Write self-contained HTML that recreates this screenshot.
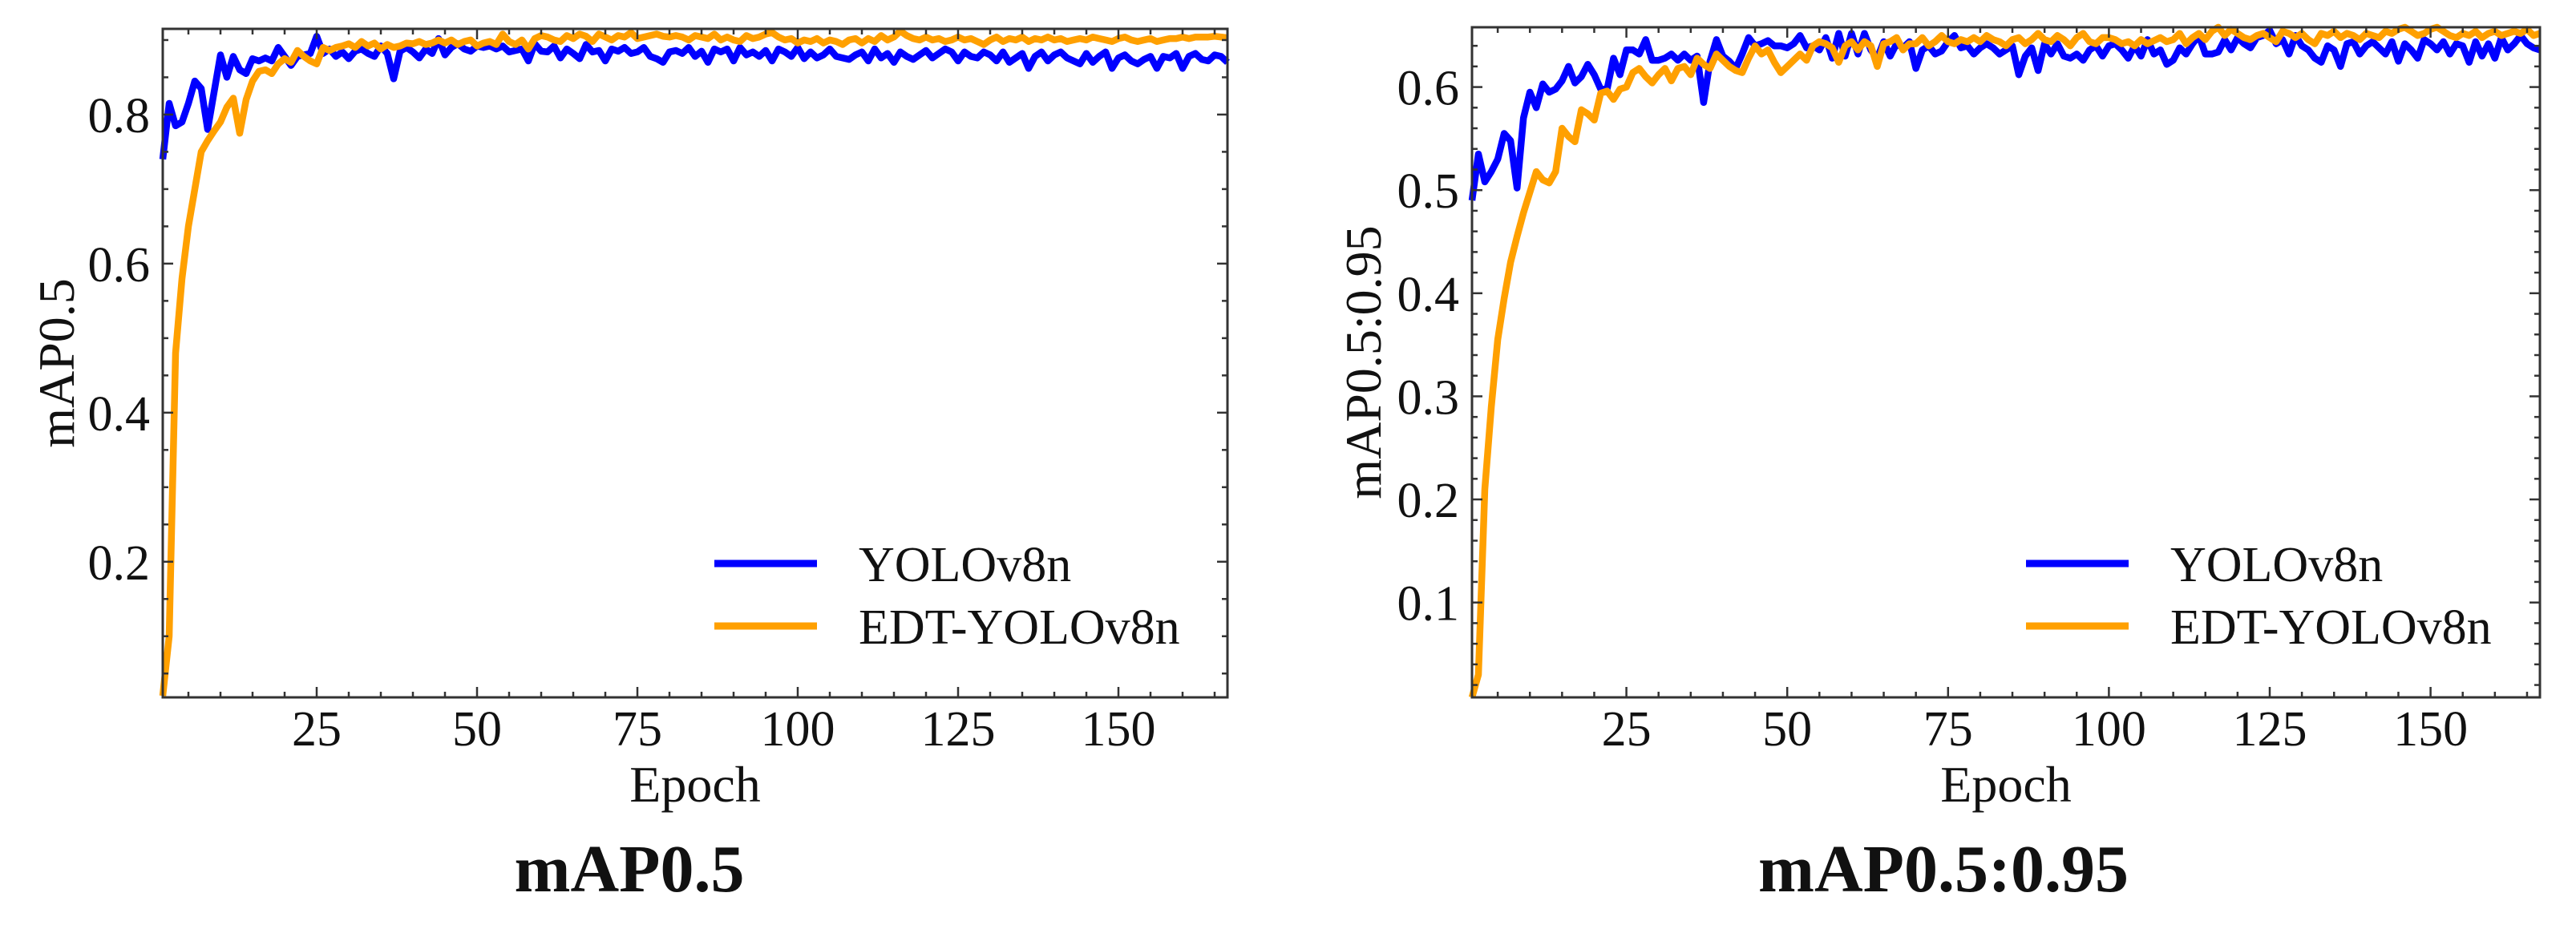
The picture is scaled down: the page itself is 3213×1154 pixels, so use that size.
<!DOCTYPE html>
<html><head><meta charset="utf-8"><style>
html,body{margin:0;padding:0;background:#fff;}
svg{display:block;}
text{font-family:"Liberation Serif",serif;fill:#111;}
</style></head><body>
<svg id="fig" width="3213" height="1154" viewBox="0 0 3213 1154" xmlns="http://www.w3.org/2000/svg"></svg>
<script>
const epochs = Array.from({length:167},(_,i)=>i+1);
const xTicks = [25,50,75,100,125,150];
const leftYTicks = [0.2,0.4,0.6,0.8];
const rightYTicks = [0.1,0.2,0.3,0.4,0.5,0.6];
const legendLabels = ["YOLOv8n","EDT-YOLOv8n"];
const leftYolo = [.74,.815,.785,.79,.815,.845,.835,.78,.83,.88,
.85,.878,.86,.855,.875,.872,.876,.872,.89,.878,
.866,.878,.88,.882,.905,.882,.888,.878,.884,.875,
.885,.888,.882,.878,.892,.882,.848,.885,.89,.884,
.876,.888,.882,.902,.88,.89,.895,.888,.885,.892,
.89,.892,.888,.892,.884,.886,.888,.872,.895,.885,
.884,.892,.876,.888,.882,.875,.894,.884,.886,.872,
.888,.885,.89,.882,.884,.89,.878,.875,.87,.884,
.886,.882,.89,.878,.885,.87,.888,.884,.888,.872,
.89,.88,.884,.878,.886,.872,.888,.884,.878,.89,
.875,.884,.876,.88,.888,.878,.876,.874,.88,.884,
.872,.888,.876,.882,.87,.884,.878,.874,.88,.886,
.876,.882,.888,.884,.872,.884,.878,.876,.884,.88,
.872,.884,.87,.876,.882,.862,.878,.884,.872,.88,
.884,.876,.872,.868,.882,.87,.878,.884,.862,.876,
.88,.872,.868,.874,.878,.862,.878,.876,.882,.862,
.878,.882,.874,.872,.88,.878,.87];
const leftEdt = [.02,.1,.48,.58,.65,.7,.75,.765,.778,.79,
.81,.822,.775,.82,.845,.858,.86,.855,.868,.875,
.87,.886,.878,.872,.868,.89,.886,.89,.892,.895,
.89,.898,.892,.896,.888,.894,.89,.892,.896,.895,
.898,.894,.896,.9,.896,.9,.894,.898,.9,.892,
.896,.898,.894,.908,.898,.894,.9,.888,.902,.906,
.904,.9,.898,.906,.902,.908,.905,.898,.908,.904,
.9,.906,.904,.91,.902,.904,.906,.908,.905,.904,
.906,.904,.9,.906,.904,.902,.908,.9,.904,.9,
.898,.906,.902,.904,.908,.91,.904,.9,.902,.896,
.9,.898,.902,.896,.9,.898,.894,.9,.902,.896,
.902,.898,.906,.9,.904,.912,.906,.902,.9,.904,
.9,.902,.898,.9,.904,.9,.902,.898,.894,.9,
.904,.898,.902,.9,.904,.898,.902,.9,.904,.9,
.902,.898,.9,.902,.9,.904,.902,.9,.898,.902,
.904,.9,.898,.9,.902,.898,.9,.902,.902,.904,
.902,.904,.904,.904,.905,.904,.903];
const rightYolo = [.49,.535,.508,.518,.53,.555,.548,.502,.57,.595,
.58,.603,.595,.598,.606,.62,.604,.61,.622,.612,
.598,.598,.628,.612,.636,.636,.632,.646,.626,.626,
.628,.632,.626,.632,.626,.63,.585,.625,.646,.63,
.625,.618,.632,.648,.64,.642,.645,.64,.64,.638,
.642,.65,.638,.64,.636,.648,.628,.652,.63,.652,
.632,.652,.636,.628,.644,.63,.642,.638,.644,.618,
.636,.64,.632,.635,.644,.65,.638,.64,.632,.638,
.642,.638,.632,.636,.64,.612,.63,.638,.616,.642,
.632,.642,.63,.628,.632,.626,.636,.64,.63,.64,
.642,.636,.628,.64,.63,.646,.632,.636,.622,.626,
.638,.632,.642,.65,.632,.632,.634,.646,.636,.648,
.642,.638,.648,.65,.655,.642,.646,.632,.65,.64,
.636,.628,.624,.64,.636,.62,.642,.644,.632,.64,
.644,.638,.632,.644,.625,.642,.636,.628,.646,.642,
.636,.644,.632,.642,.64,.624,.644,.63,.642,.628,
.648,.636,.642,.65,.642,.638,.636];
const rightEdt = [.008,.03,.21,.29,.355,.395,.43,.455,.478,.498,
.518,.51,.507,.518,.56,.552,.547,.578,.574,.568,
.594,.596,.588,.598,.6,.614,.618,.61,.604,.612,
.618,.606,.618,.62,.612,.628,.622,.618,.632,.626,
.62,.616,.614,.628,.64,.632,.636,.624,.614,.62,
.626,.632,.626,.64,.644,.642,.638,.624,.64,.644,
.636,.644,.64,.62,.642,.644,.648,.636,.642,.642,
.648,.64,.644,.65,.644,.642,.646,.644,.648,.644,
.65,.646,.644,.64,.646,.648,.642,.646,.652,.646,
.644,.65,.646,.64,.648,.652,.644,.642,.648,.648,
.646,.642,.644,.64,.646,.642,.645,.648,.644,.646,
.652,.642,.648,.652,.646,.654,.658,.65,.656,.652,
.648,.646,.65,.652,.648,.644,.654,.652,.648,.652,
.646,.642,.652,.65,.654,.648,.652,.65,.646,.652,
.65,.648,.654,.652,.656,.658,.654,.65,.652,.656,
.658,.654,.65,.648,.652,.65,.654,.648,.652,.654,
.65,.652,.654,.652,.656,.65,.652];

const NS="http://www.w3.org/2000/svg";
const svg=document.getElementById('fig');
function mk(tag,attrs,parent){const e=document.createElementNS(NS,tag);for(const k in attrs)e.setAttribute(k,attrs[k]);(parent||svg).appendChild(e);return e;}

function panel(cfg){
  const g=mk('g',{});
  
  
  const {x0,x1,y0,y1,ymin,ymax,xmin,xmax}=cfg;
  const sx=v=>x0+(v-xmin)/(xmax-xmin)*(x1-x0);
  const sy=v=>y1-(v-ymin)/(ymax-ymin)*(y1-y0);
  const series=[[cfg.a,'#0000ff','yolov8n-line'],[cfg.b,'#ffa000','edt-yolov8n-line']];
  series.forEach(([arr,col,nm])=>{
    const d=arr.map((v,i)=>(i?'L':'M')+sx(epochs[i]).toFixed(1)+' '+sy(v).toFixed(1)).join(' ');
    const p=mk('path',{d,fill:'none',stroke:col,'stroke-width':8.5,'stroke-linejoin':'round'},g);
    
    
  });
  const fr=mk('rect',{x:x0,y:y0,width:x1-x0,height:y1-y0,fill:'none',stroke:'#333','stroke-width':3},g);
  
  
  for(let e=5;e<xmax;e+=5){
    const major=xTicks.includes(e);const L=major?13:7;const x=sx(e);
    mk('line',{x1:x,x2:x,y1:y1,y2:y1-L,stroke:'#333','stroke-width':2.5},g);
    mk('line',{x1:x,x2:x,y1:y0,y2:y0+L,stroke:'#333','stroke-width':2.5},g);
  }
  xTicks.forEach(t=>{
    const tx=mk('text',{x:sx(t),y:y1+60,'font-size':62,'text-anchor':'middle'},g);
    tx.textContent=t;
    
    
  });
  for(let k=Math.ceil(ymin/cfg.minor);k*cfg.minor<ymax;k++){
    const v=k*cfg.minor;const major=cfg.yTicks.some(t=>Math.abs(t-v)<1e-6);const L=major?13:7;const y=sy(v);
    mk('line',{x1:x0,x2:x0+L,y1:y,y2:y,stroke:'#333','stroke-width':2.5},g);
    mk('line',{x1:x1,x2:x1-L,y1:y,y2:y,stroke:'#333','stroke-width':2.5},g);
  }
  cfg.yTicks.forEach(t=>{
    const ty=mk('text',{x:x0-16,y:sy(t)+22,'font-size':62,'text-anchor':'end'},g);
    ty.textContent=t.toFixed(1);
    
    
  });
  const xl=mk('text',{x:(x0+x1)/2,y:y1+130,'font-size':64,'text-anchor':'middle'},g);
  xl.textContent='Epoch';
  
  
  const yl=mk('text',{x:0,y:0,'font-size':64,'text-anchor':'middle',transform:`translate(${cfg.ylx},${(y0+y1)/2}) rotate(-90)`},g);
  yl.textContent=cfg.ylabel;
  
  
  [['#0000ff',703],['#ffa000',781]].forEach(([c,y],i)=>{
    const lg=mk('g',{},g);
    
    
    mk('line',{x1:cfg.legx,x2:cfg.legx+128,y1:y,y2:y,stroke:c,'stroke-width':9},lg);
    const t=mk('text',{x:cfg.legx+180,y:y+22,'font-size':62},lg);
    t.textContent=legendLabels[i];
  });
  const tt=mk('text',{x:cfg.titleX,y:1112,'font-size':84,'font-weight':'bold','text-anchor':'middle'},g);
  tt.textContent=cfg.title;
  
  
}
panel({name:'map50-panel',x0:203,x1:1531,y0:36,y1:870,xmin:1,xmax:167,ymin:0.018,ymax:0.915,minor:0.05,
  yTicks:leftYTicks,a:leftYolo,b:leftEdt,ylabel:'mAP0.5',ylx:92,legx:891,title:'mAP0.5',titleX:785});
panel({name:'map50-95-panel',x0:1836,x1:3168,y0:34,y1:870,xmin:1,xmax:167,ymin:0.008,ymax:0.658,minor:0.02,
  yTicks:rightYTicks,a:rightYolo,b:rightEdt,ylabel:'mAP0.5:0.95',ylx:1722,legx:2527,title:'mAP0.5:0.95',titleX:2424});
</script>
</body></html>
